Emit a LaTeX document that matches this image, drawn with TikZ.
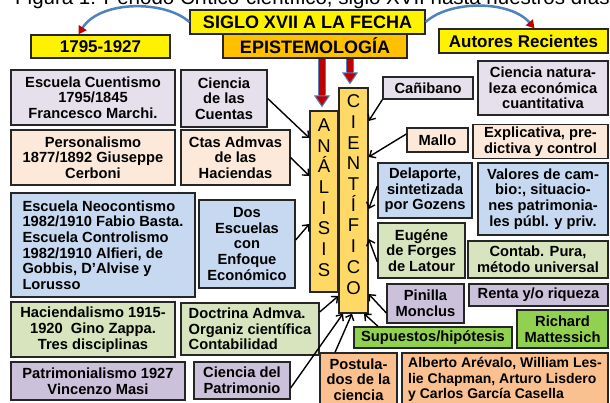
\documentclass[tikz,border=0pt]{standalone}
\usepackage{fontspec}
\setmainfont{Liberation Sans}
\usetikzlibrary{arrows.meta}

\definecolor{lavfill}{HTML}{E6E0EC}
\definecolor{peachfill}{HTML}{FDE9D9}
\definecolor{bluefill}{HTML}{C6D9F1}
\definecolor{greenfill}{HTML}{D7E4BD}
\definecolor{purplefill}{HTML}{CCC1DA}
\definecolor{limefill}{HTML}{92D050}
\definecolor{orangefill}{HTML}{FAC090}
\definecolor{goldfill}{HTML}{FFD966}
\definecolor{epistfill}{HTML}{FFC000}
\definecolor{arcblue}{HTML}{4F81BD}
\definecolor{arcred}{HTML}{C00000}

\begin{document}
\begin{tikzpicture}[x=1pt, y=-1pt,
  box/.style={draw=black!85, line width=1.3pt, inner sep=2pt, align=center,
    font=\bfseries\fontsize{14.7}{15.7}\selectfont},
  lav/.style={box, fill=lavfill},
  peach/.style={box, fill=peachfill},
  blu/.style={box, fill=bluefill},
  grn/.style={box, fill=greenfill},
  purp/.style={box, fill=purplefill},
  lime/.style={box, fill=limefill},
  orng/.style={box, fill=orangefill},
  gold/.style={box, fill=goldfill},
  header/.style={box, font=\bfseries\fontsize{18}{19}\selectfont},
  letters/.style={align=center, inner sep=0pt, font=\fontsize{18.5}{20.7}\selectfont},
  conn/.style={black, line width=1.4pt, -{Straight Barb[length=5pt, width=9pt]}},
  fatarrow/.style={draw=arcred, line width=6pt, shorten >=3pt,
    -{Triangle[width=16pt, length=12pt, fill=arcred, color=arcblue, line width=1pt]},
    preaction={draw=arcblue, line width=8pt, -, shorten >=15pt}},
  arcarrow/.style={draw=arcblue, line width=2.5pt,
    -{Triangle[width=9pt, length=8pt, color=arcred]}}]
  \begin{scope}
    \path[use as bounding box, fill=white] (0, 0) rectangle (610, 403);

    \node[anchor=base west, inner sep=0pt, font=\fontsize{20.5}{22}\selectfont] (titulo) at (15, 4.5) {Figura 1: Periodo Crítico-científico, siglo XVII hasta nuestros días.};

    \node[header, fill=yellow, minimum width=235, minimum height=24] (siglo) at (307.5, 22) {SIGLO XVII A LA FECHA};
    \node[header, fill=epistfill, minimum width=184, minimum height=24] (episte) at (315, 46) {EPISTEMOLOGÍA};
    \node[header, fill=yellow, minimum width=139, minimum height=23, font=\bfseries\fontsize{17}{18}\selectfont] (inicio) at (100.5, 46.5) {1795-1927};
    \node[header, fill=yellow, minimum width=169, minimum height=24, font=\bfseries\fontsize{17}{18}\selectfont] (recientes) at (523.5, 41) {Autores Recientes};

    \node[lav, minimum width=164, minimum height=55] (cuentismo) at (93, 97.5) {Escuela Cuentismo\\1795/1845\\Francesco Marchi.};
    \node[lav, minimum width=86, minimum height=57] (cuentas) at (224, 98.5) {Ciencia\\de las\\Cuentas};
    \node[peach, minimum width=164, minimum height=55] (personal) at (93, 157.5) {Personalismo\\1877/1892 Giuseppe\\Cerboni};
    \node[peach, minimum width=109, minimum height=55] (haciendas) at (235.5, 157.5) {Ctas Admvas\\de las\\Haciendas};
    \node[blu, align=left, minimum width=184, minimum height=104] (neocont) at (103, 245) {Escuela Neocontismo\\1982/1910 Fabio Basta.\\Escuela Controlismo\\1982/1910 Alfieri, de\\Gobbis, D'Alvise y\\Lorusso};
    \node[blu, minimum width=96, minimum height=88] (dosesc) at (247, 244) {Dos\\Escuelas\\con\\Enfoque\\Económico};
    \node[grn, minimum width=164, minimum height=55] (hacendal) at (93, 329.5) {Haciendalismo 1915-\\1920\ \ Gino Zappa.\\Tres disciplinas};
    \node[grn, align=left, minimum width=138, minimum height=52] (doctrina) at (250, 329) {Doctrina Admva.\\Organiz científica\\Contabilidad};
    \node[purp, minimum width=174, minimum height=38] (patrimon) at (98, 381) {Patrimonialismo 1927\\Vincenzo Masi};
    \node[purp, minimum width=96, minimum height=37] (cpatrim) at (242, 380.5) {Ciencia del\\Patrimonio};

    \node[gold, minimum width=28, minimum height=181, label={[letters, yshift=4pt]center:{A\\N\\Á\\L\\I\\S\\I\\S}}] (analisis) at (324, 201.5) {};
    \node[gold, minimum width=29, minimum height=225, label={[letters, yshift=6pt]center:{C\\I\\E\\N\\T\\Í\\F\\I\\C\\O}}] (cientifico) at (353.5, 200.5) {};

    \node[lav, minimum width=90, minimum height=22] (canibano) at (428, 88) {Cañibano};
    \node[lav, minimum width=130, minimum height=54] (natural) at (543, 88) {Ciencia natura-\\leza económica\\cuantitativa};
    \node[peach, minimum width=61, minimum height=24] (mallo) at (437.5, 140) {Mallo};
    \node[peach, minimum width=135, minimum height=33] (explic) at (540.5, 141.5) {Explicativa, pre-\\dictiva y control};
    \node[blu, minimum width=94, minimum height=55] (delaporte) at (425, 190.5) {Delaporte,\\sintetizada\\por Gozens};
    \node[blu, minimum width=130, minimum height=72] (valores) at (543, 199) {Valores de cam-\\bio:, situacio-\\nes patrimonia-\\les públ. y priv.};
    \node[grn, minimum width=87, minimum height=55] (forges) at (421.5, 250.5) {Eugéne\\de Forges\\de Latour};
    \node[grn, minimum width=140, minimum height=37] (pura) at (538, 259.5) {Contab. Pura,\\método universal};
    \node[purp, minimum width=77, minimum height=39] (pinilla) at (425.5, 303.5) {Pinilla\\Monclus};
    \node[purp, minimum width=139, minimum height=22] (renta) at (538.5, 295) {Renta y/o riqueza};
    \node[lime, minimum width=158, minimum height=21] (supuestos) at (433, 337.5) {Supuestos/hipótesis};
    \node[lime, minimum width=91, minimum height=38] (mattessich) at (562.5, 329) {Richard\\Mattessich};
    \node[orng, minimum width=77, minimum height=53] (postulados) at (358.5, 379.5) {Postula-\\dos de la\\ciencia};
    \node[orng, align=left, minimum width=206, minimum height=53, font=\bfseries\fontsize{14}{15.7}\selectfont] (arevalo) at (505, 379.5) {Alberto Arévalo, William Les-\\lie Chapman, Arturo Lisdero\\y Carlos García Casella};

    \draw[arcarrow] (siglo.west) .. controls (165, 0) and (100, 0) .. ([xshift=-22pt]inicio.north);
    \draw[arcarrow] (siglo.east) .. controls (450, 0) and (510, 0) .. ([xshift=11pt]recientes.north);

    \draw[fatarrow] (episte.south -| 322,0) -- (analisis.north -| 322,0);
    \draw[fatarrow] (episte.south -| 350,0) -- (cientifico.north -| 350,0);

    \draw[conn] (cuentas.east) -- (analisis.west |- 0,138);
    \draw[conn] (haciendas.east) -- (analisis.west |- 0,176);
    \draw[conn] (dosesc.east |- 0,240) -- (analisis.west |- 0,224);
    \draw[conn] (doctrina.east |- 0,312) -- (cientifico.west |- 0,296);
    \draw[conn] (cpatrim.east |- 0,388) -- (cientifico.south -| 343,0);
    \draw[conn] (postulados.north -| 335,0) -- (cientifico.south -| 352,0);
    \draw[conn] (canibano.south west) -- (cientifico.east |- 0,121);
    \draw[conn] (mallo.west |- 0,134) -- (cientifico.east |- 0,157);
    \draw[conn] (delaporte.west |- 0,186) -- (cientifico.east |- 0,209);
    \draw[conn] (forges.west |- 0,262) -- (cientifico.east |- 0,239);
    \draw[conn] (pinilla.west |- 0,313) -- (cientifico.east |- 0,294);
    \draw[conn] (supuestos.north -| 378,0) -- (cientifico.south -| 364,0);
  \end{scope}
\end{tikzpicture}
\end{document}
